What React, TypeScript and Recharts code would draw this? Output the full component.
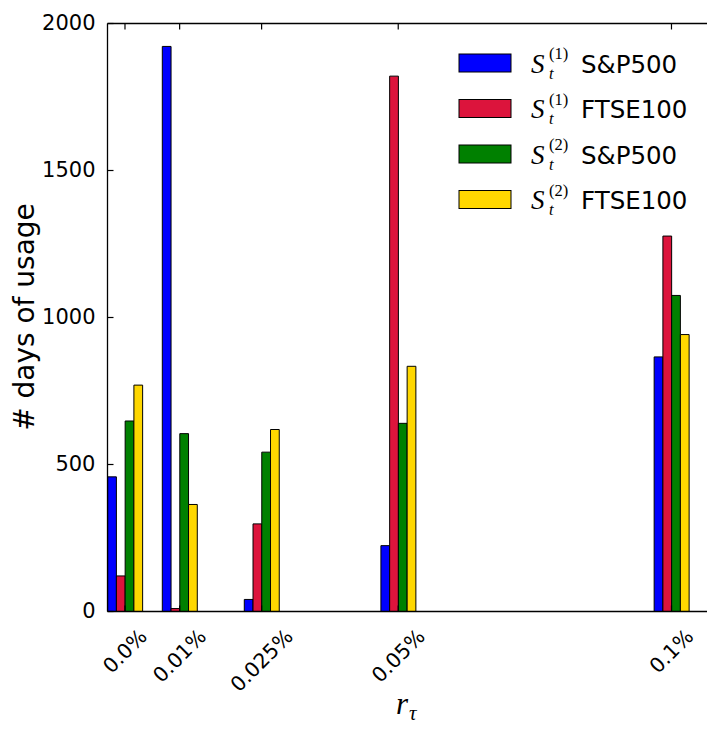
import { BarChart, Bar, XAxis, YAxis, Legend } from 'recharts'

const rates = [0, 0.01, 0.025, 0.05, 0.1]
const rateLabels = ['0.0%', '0.01%', '0.025%', '0.05%', '0.1%']
const s1Sp500 = [458, 1922, 41, 224, 866]
const s1Ftse100 = [121, 10, 298, 1821, 1277]
const s2Sp500 = [648, 605, 542, 640, 1075]
const s2Ftse100 = [770, 364, 619, 834, 942]
const yTicks = [0, 500, 1000, 1500, 2000]

const barWidth = 0.0016 // in r units, 4 bars per group
const pxPerUnit = 5465
const groupCenters = rates.map((r) => r + barWidth * 2)

const data = rates.map((r, i) => ({
  center: groupCenters[i],
  s1Sp500: s1Sp500[i],
  s1Ftse100: s1Ftse100[i],
  s2Sp500: s2Sp500[i],
  s2Ftse100: s2Ftse100[i],
}))

const series = [
  { key: 's1Sp500', color: '#0000ff', sup: '(1)', name: 'S&P500' },
  { key: 's1Ftse100', color: '#dc143c', sup: '(1)', name: 'FTSE100' },
  { key: 's2Sp500', color: '#008000', sup: '(2)', name: 'S&P500' },
  { key: 's2Ftse100', color: '#ffd700', sup: '(2)', name: 'FTSE100' },
]

const sans = 'DejaVu Sans, sans-serif'
const serif = 'Liberation Serif, DejaVu Serif, serif'

// rough DejaVu Sans widths (em) for tick labels
const charW: Record<string, number> = { '.': 0.318, '%': 0.95 }
const textWidth = (s: string, size: number) =>
  s.split('').reduce((acc, c) => acc + (charW[c] ?? 0.636), 0) * size

function XTick(props: any) {
  const { x, y, payload } = props
  const idx = groupCenters.findIndex((c) => Math.abs(c - payload.value) < 1e-9)
  const label = rateLabels[idx] ?? ''
  const h = (textWidth(label, 20.5) + 15) * Math.SQRT1_2
  const cy = y + 16 + h / 2
  return (
    <g>
      <line x1={x} x2={x} y1={y} y2={y - 6} stroke="#000" strokeWidth={1.2} />
      <text
        x={x}
        y={cy}
        textAnchor="middle"
        dominantBaseline="central"
        transform={`rotate(-45 ${x} ${cy})`}
        fontFamily={sans}
        fontSize={20.5}
        fill="#000"
      >
        {label}
      </text>
    </g>
  )
}

function TopTick(props: any) {
  const { x, y } = props
  return <line x1={x} x2={x} y1={y} y2={y + 6} stroke="#000" strokeWidth={1.2} />
}

function YTick(props: any) {
  const { x, y, payload } = props
  return (
    <g>
      <line x1={x} x2={x + 6} y1={y} y2={y} stroke="#000" strokeWidth={1.2} />
      <text x={x - 12} y={y} textAnchor="end" dominantBaseline="central" fontFamily={sans} fontSize={21} fill="#000">
        {payload.value}
      </text>
    </g>
  )
}

function LegendBox() {
  return (
    <svg width={257} height={190}>
      {series.map((s, i) => {
        const cy = 23 + i * 45.5
        const base = cy + 9.5
        return (
          <g key={s.key}>
            <rect x={9} y={cy - 9} width={52} height={18} fill={s.color} stroke="#000" strokeWidth={1} />
            <text x={81} y={base} fontFamily={serif} fontStyle="italic" fontSize={27} fill="#000">S</text>
            <text x={99} y={base - 13.5} fontFamily={serif} fontSize={16.5} fill="#000">{s.sup}</text>
            <text x={99} y={base + 6} fontFamily={serif} fontStyle="italic" fontSize={16.5} fill="#000">t</text>
            <text x={131} y={base} fontFamily={sans} fontSize={24.5} fill="#000">{s.name}</text>
          </g>
        )
      })}
    </svg>
  )
}

export default function App() {
  const plotLeft = 107.5
  const plotWidth = 0.11 * pxPerUnit
  return (
    <div style={{ position: 'absolute', left: 0, top: 0, width: 707, height: 729, overflow: 'hidden', background: '#fff' }}>
      <BarChart
        width={plotLeft + plotWidth}
        height={729}
        data={data}
        margin={{ top: 22.5, right: 0, left: 0, bottom: 0 }}
        barGap={0}
        barSize={barWidth * pxPerUnit}
      >
        <XAxis
          dataKey="center"
          type="number"
          domain={[0, 0.11]}
          ticks={groupCenters}
          interval={0}
          height={117.5}
          tickSize={0}
          tickMargin={0}
          tickLine={false}
          tick={<XTick />}
          axisLine={{ stroke: '#000', strokeWidth: 1.3 }}
          allowDataOverflow
          label={{
            content: () => (
              <text x={396} y={714} fontFamily={serif} fill="#000">
                <tspan fontStyle="italic" fontSize={31}>r</tspan>
                <tspan dx={1} dy={6} fontStyle="italic" fontSize={21}>τ</tspan>
              </text>
            ),
          }}
        />
        <XAxis
          xAxisId="top"
          orientation="top"
          dataKey="center"
          type="number"
          domain={[0, 0.11]}
          ticks={groupCenters}
          interval={0}
          height={1}
          tickSize={0}
          tickMargin={0}
          tickLine={false}
          tick={<TopTick />}
          axisLine={{ stroke: '#000', strokeWidth: 1.3 }}
        />
        <YAxis
          type="number"
          domain={[0, 2000]}
          ticks={yTicks}
          interval={0}
          width={plotLeft}
          tickSize={0}
          tickMargin={0}
          tickLine={false}
          tick={<YTick />}
          axisLine={{ stroke: '#000', strokeWidth: 1.3 }}
          label={{
            content: () => (
              <text
                x={34}
                y={317}
                textAnchor="middle"
                transform="rotate(-90 34 317)"
                fontFamily={sans}
                fontSize={28}
                fill="#000"
              >
                # days of usage
              </text>
            ),
          }}
        />
        <Legend
          layout="horizontal"
          align="center"
          verticalAlign="middle"
          wrapperStyle={{ left: 450, top: 40, width: 257, height: 190 }}
          content={() => <LegendBox />}
        />
        {series.map((s) => (
          <Bar
            key={s.key}
            dataKey={s.key}
            fill={s.color}
            stroke="#000"
            strokeWidth={1}
            isAnimationActive={false}
          />
        ))}
      </BarChart>
    </div>
  )
}
